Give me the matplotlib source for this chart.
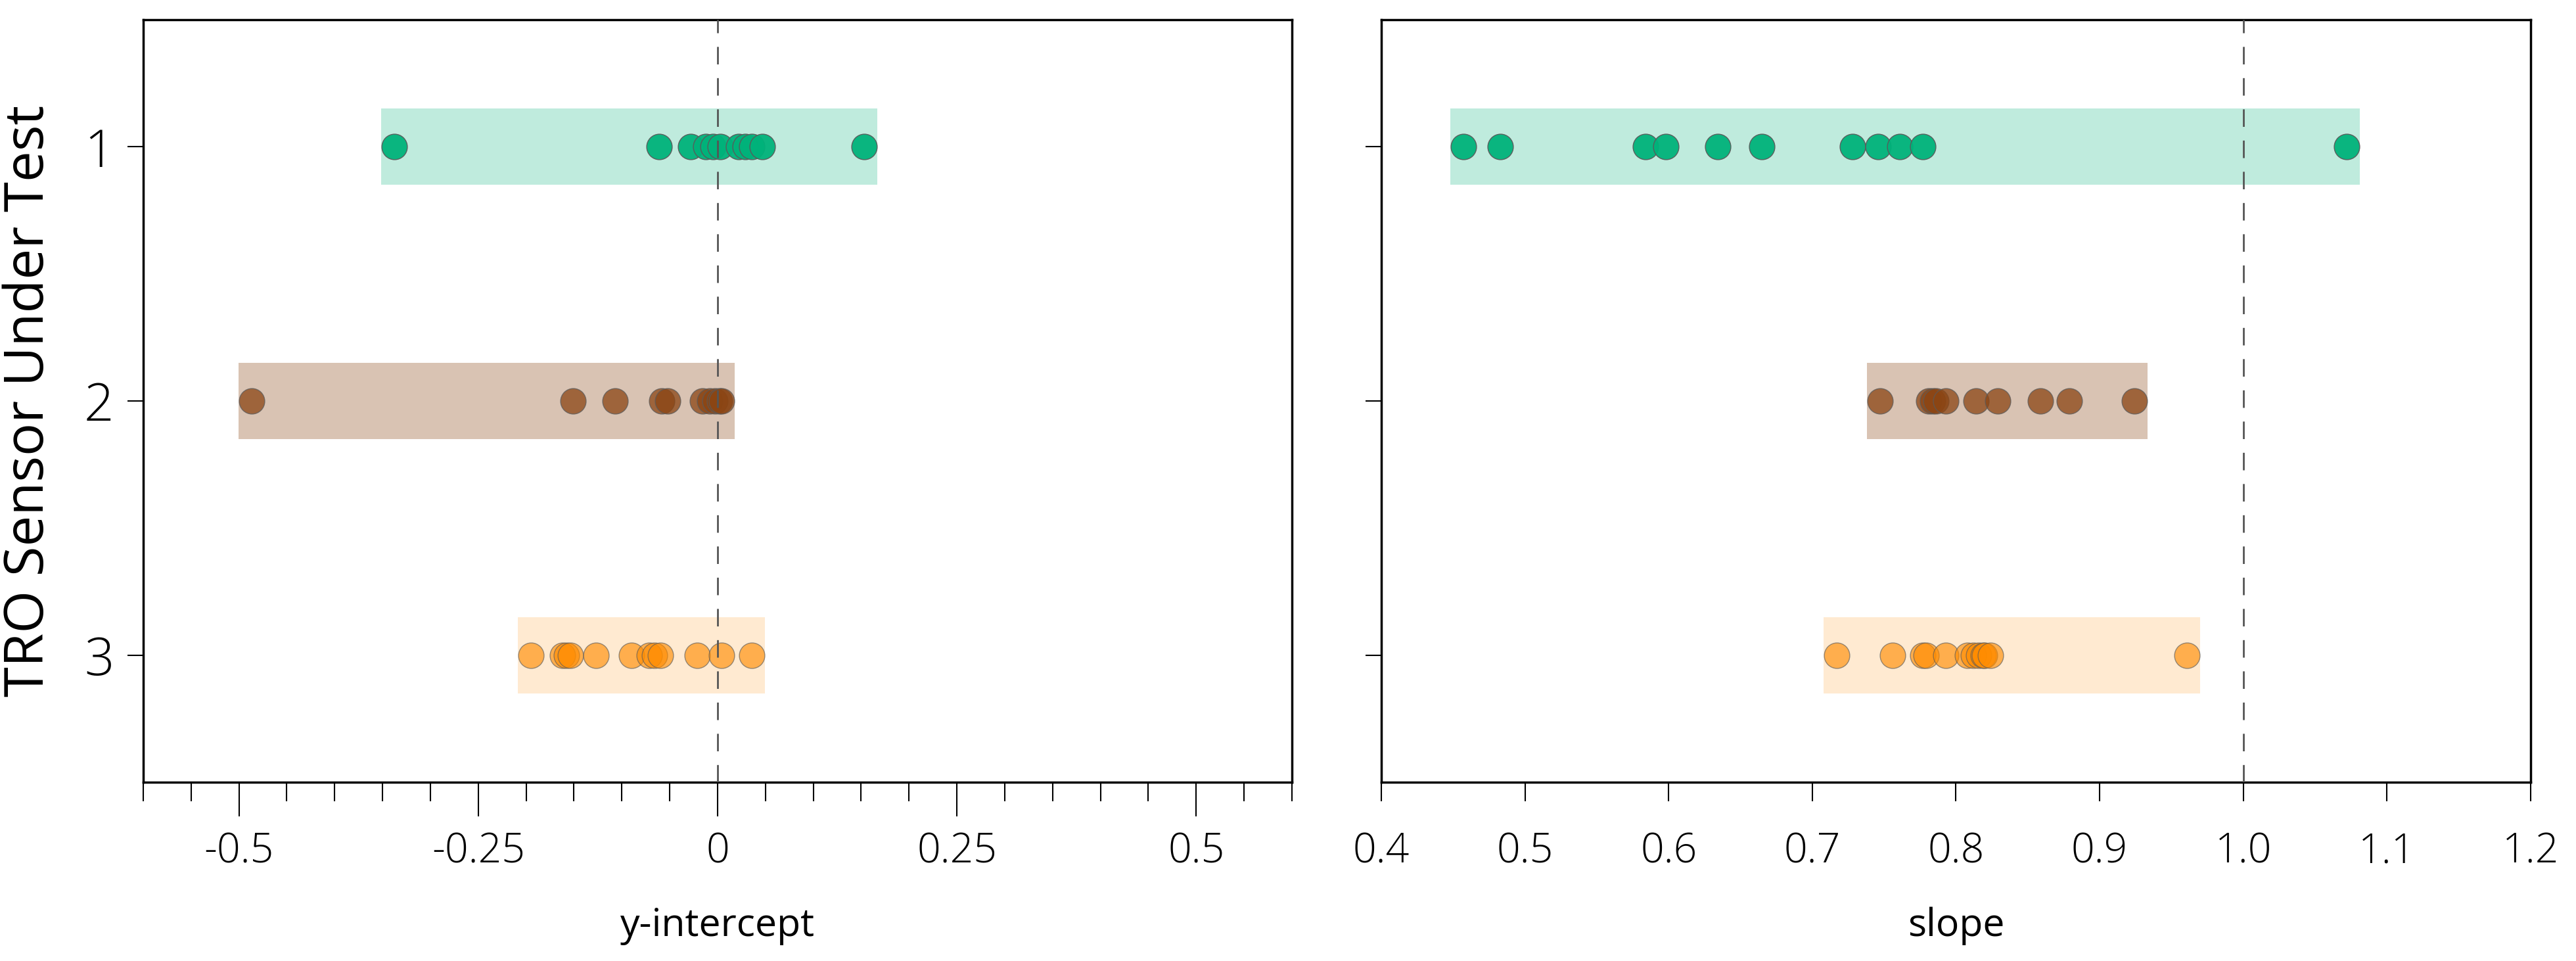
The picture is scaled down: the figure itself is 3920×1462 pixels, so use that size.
import numpy as np
import matplotlib
matplotlib.use("Agg")
import matplotlib.pyplot as plt
from matplotlib.ticker import MultipleLocator

plt.rcParams["font.family"] = ["Open Sans", "DejaVu Sans"]
plt.rcParams["font.weight"] = "light"
plt.rcParams["axes.unicode_minus"] = False

# -------------------- Data -------------------- #
sensors = [1, 2, 3]

intercept_1 = [-0.338, -0.061, -0.028, -0.012, -0.005, 0.003, 0.022, 0.029, 0.036, 0.047, 0.153]
intercept_2 = [-0.487, -0.151, -0.107, -0.058, -0.052, -0.016, -0.008, -0.003, 0.002, 0.004]
intercept_3 = [-0.195, -0.162, -0.158, -0.154, -0.127, -0.090, -0.071, -0.066, -0.060, -0.021, 0.004, 0.036]

slope_1 = [0.457, 0.483, 0.584, 0.598, 0.634, 0.665, 0.728, 0.746, 0.761, 0.777, 1.072]
slope_2 = [0.747, 0.781, 0.784, 0.786, 0.793, 0.814, 0.829, 0.859, 0.879, 0.924]
slope_3 = [0.717, 0.756, 0.777, 0.779, 0.793, 0.808, 0.812, 0.816, 0.819, 0.820, 0.824, 0.961]

intercept_ticks = [-0.5, -0.25, 0, 0.25, 0.5]
intercept_labels = ["-0.5", "-0.25", "0", "0.25", "0.5"]
slope_ticks = [0.4, 0.5, 0.6, 0.7, 0.8, 0.9, 1.0, 1.1, 1.2]
slope_labels = ["0.4", "0.5", "0.6", "0.7", "0.8", "0.9", "1.0", "1.1", "1.2"]

# -------------------- Styles -------------------- #
colors = ["#00b27a", "#8b4513", "#ff8c00"]
marker_alpha = [0.95, 0.75, 0.63]
band_alpha = [0.25, 0.32, 0.18]

fig = plt.figure(figsize=(15.68, 5.848), dpi=250)
ax1 = fig.add_axes([0.0556, 0.186, 0.4459, 0.7934])
ax2 = fig.add_axes([0.5362, 0.186, 0.4462, 0.7934], sharey=ax1)


def draw_panel(ax, series, xlim, ref):
    ax.set_xlim(*xlim)
    ax.set_ylim(3.5, 0.5)
    # band padding = marker radius (in pixels) converted to data units
    width_px = ax.get_position().width * fig.get_figwidth() * fig.dpi
    pad = 20 * (xlim[1] - xlim[0]) / width_px
    for i, (y, vals) in enumerate(zip(sensors, series)):
        lo, hi = min(vals), max(vals)
        ax.barh(y, hi - lo + 2 * pad, left=lo - pad, height=0.3,
                color=colors[i], alpha=band_alpha[i], linewidth=0, zorder=1)
        ax.scatter(vals, [y] * len(vals), s=125, color=colors[i],
                   alpha=marker_alpha[i], edgecolors="#5a5a5a",
                   linewidths=0.4, zorder=3)
    ax.axvline(ref, color="#555555", lw=0.8, ls=(0, (9.6, 7.5)), zorder=4)
    for s in ax.spines.values():
        s.set_linewidth(1.0)
    ax.tick_params(axis="y", length=7, width=0.6, pad=5.8, labelsize=23)


draw_panel(ax1, [intercept_1, intercept_2, intercept_3], (-0.6, 0.6), 0)
draw_panel(ax2, [slope_1, slope_2, slope_3], (0.4, 1.2), 1.0)

ax1.set_yticks(sensors)
ax1.set_yticklabels([str(s) for s in sensors])
ax1.set_ylabel("TRO Sensor Under Test", fontsize=24, labelpad=12)

ax1.set_xticks(intercept_ticks)
ax1.set_xticklabels(intercept_labels)
ax1.xaxis.set_minor_locator(MultipleLocator(0.05))
ax1.tick_params(axis="x", which="major", length=15, width=0.6, pad=6.3, labelsize=18)
ax1.tick_params(axis="x", which="minor", length=8.4, width=0.6)
ax1.set_xlabel("y-intercept", fontsize=17, labelpad=15)

ax2.set_xticks(slope_ticks)
ax2.set_xticklabels(slope_labels)
ax2.tick_params(axis="x", length=8.4, width=0.6, pad=12.9, labelsize=18)
ax2.tick_params(axis="y", labelleft=False)
ax2.set_xlabel("slope", fontsize=17, labelpad=15)

fig.savefig("out.png", dpi=250)
